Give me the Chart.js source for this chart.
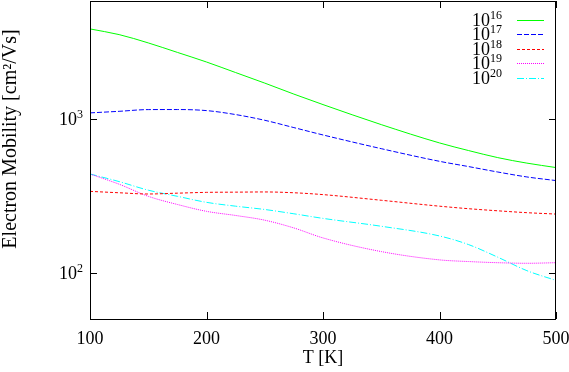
<!DOCTYPE html>
<html lang="en">
<head>
    <meta charset="UTF-8" />
    <title>Electron Mobility</title>
    <script src="https://cdn.jsdelivr.net/npm/chart.js"></script>
    <style>
        body { margin: 0; background: #fff; }
        #wrap { width: 569px; height: 372px; }
    </style>
</head>
<body>
    <div id="wrap"><canvas id="mobChart"></canvas></div>
    <script>
    // temperature samples (K)
    const temps = [100, 125, 150, 175, 200, 225, 250, 275, 300, 350, 400, 425, 450, 475, 500];

    // mobility (cm^2/Vs) per doping level
    const mu16 = [3820, 3510, 3100, 2690, 2330, 1990, 1700, 1442, 1233, 914, 695, 620, 558, 514, 481];
    const mu17 = [1089, 1115, 1144, 1145, 1127, 1062, 975, 874, 783, 638, 528, 488, 450, 418, 396];
    const mu18 = [337, 330, 324, 328, 332, 333, 334, 330, 321, 295, 270, 260, 252, 245, 240];
    const mu19 = [437, 375, 313, 277, 250, 235, 219, 195, 168, 137, 121, 118, 116, 115, 116];
    const mu20 = [437, 390, 343, 313, 286, 270, 257, 241, 225, 200, 173, 152, 126, 103, 89];

    const legendExp = ['16', '17', '18', '19', '20'];
    const xTicks = [100, 200, 300, 400, 500];
    const yTicks = [100, 1000];
    const yExp = ['2', '3'];

    const serif = '"Liberation Serif", "DejaVu Serif", serif';

    const styles = [
        { color: '#00ff00', dash: [] },
        { color: '#0000ff', dash: [5, 2] },
        { color: '#ff0000', dash: [3, 2] },
        { color: '#ff00ff', dash: [1, 1] },
        { color: '#00ffff', dash: [7, 2, 1, 2] }
    ];

    const series = [mu16, mu17, mu18, mu19, mu20];

    const datasets = series.map((vals, i) => ({
        label: '10^' + legendExp[i],
        data: temps.map((t, k) => ({ x: t, y: vals[k] })),
        borderColor: styles[i].color,
        borderDash: styles[i].dash,
        borderWidth: 1,
        pointRadius: 0,
        fill: false,
        cubicInterpolationMode: 'monotone'
    }));

    // frame, inward ticks, tick labels, titles and legend drawn gnuplot style
    const decor = {
        id: 'decor',
        afterDraw(chart) {
            const ctx = chart.ctx;
            const a = chart.chartArea;
            const xs = chart.scales.x;
            const ys = chart.scales.y;
            ctx.save();
            ctx.strokeStyle = '#000';
            ctx.lineWidth = 1;
            ctx.setLineDash([]);
            ctx.strokeRect(a.left + 0.5, a.top + 0.5, a.right - a.left - 1, a.bottom - a.top);

            ctx.beginPath();
            xTicks.forEach(v => {
                const px = Math.round(xs.getPixelForValue(v)) + 0.5;
                ctx.moveTo(px, a.bottom); ctx.lineTo(px, a.bottom - 7);
                ctx.moveTo(px, a.top); ctx.lineTo(px, a.top + 7);
            });
            yTicks.forEach(v => {
                const py = Math.round(ys.getPixelForValue(v)) + 0.5;
                ctx.moveTo(a.left, py); ctx.lineTo(a.left + 7, py);
                ctx.moveTo(a.right, py); ctx.lineTo(a.right - 7, py);
            });
            ctx.stroke();

            ctx.fillStyle = '#000';
            ctx.textBaseline = 'alphabetic';
            ctx.font = '18px ' + serif;
            ctx.textAlign = 'center';
            xTicks.forEach(v => {
                ctx.fillText(String(v), xs.getPixelForValue(v), 343.5);
            });

            yTicks.forEach((v, i) => {
                const py = ys.getPixelForValue(v);
                ctx.font = '18px ' + serif;
                ctx.textAlign = 'right';
                ctx.fillText('10', 77, py + 6);
                ctx.font = '12px ' + serif;
                ctx.textAlign = 'left';
                ctx.fillText(yExp[i], 77, py - 1);
            });

            // axis titles
            ctx.font = '18px ' + serif;
            ctx.textAlign = 'center';
            ctx.fillText('T [K]', (a.left + a.right) / 2, 363);
            ctx.save();
            ctx.translate(11, 139);
            ctx.rotate(-Math.PI / 2);
            ctx.font = '20px ' + serif;
            ctx.textBaseline = 'middle';
            ctx.fillText('Electron Mobility [cm\u00b2/Vs]', 0, 0);
            ctx.restore();

            // legend
            legendExp.forEach((e, i) => {
                const yy = 19.5 + i * 14.5;
                ctx.font = '18px ' + serif;
                ctx.textAlign = 'right';
                ctx.textBaseline = 'alphabetic';
                ctx.fillStyle = '#000';
                ctx.fillText('10', 490, yy + 6);
                ctx.font = '12px ' + serif;
                ctx.textAlign = 'left';
                ctx.fillText(e, 490, yy - 1);
                ctx.beginPath();
                ctx.strokeStyle = styles[i].color;
                ctx.setLineDash(styles[i].dash);
                ctx.moveTo(517, Math.round(yy) + 0.5);
                ctx.lineTo(544, Math.round(yy) + 0.5);
                ctx.stroke();
            });
            ctx.restore();
        }
    };

    new Chart(document.getElementById('mobChart'), {
        type: 'line',
        data: { datasets: datasets },
        options: {
            responsive: true,
            maintainAspectRatio: false,
            animation: false,
            layout: { padding: { left: 0, right: 13, top: 1, bottom: 0 } },
            plugins: { legend: { display: false }, tooltip: { enabled: false } },
            scales: {
                x: {
                    type: 'linear',
                    min: 100,
                    max: 500,
                    grid: { display: false },
                    border: { display: false },
                    ticks: { display: false },
                    afterFit: s => { s.height = 53; s.paddingLeft = 0; s.paddingRight = 0; }
                },
                y: {
                    type: 'logarithmic',
                    min: 50,
                    max: 5800,
                    grid: { display: false },
                    border: { display: false },
                    ticks: { display: false },
                    afterFit: s => { s.width = 90; s.paddingTop = 0; s.paddingBottom = 0; }
                }
            }
        },
        plugins: [decor]
    });
    </script>
</body>
</html>
